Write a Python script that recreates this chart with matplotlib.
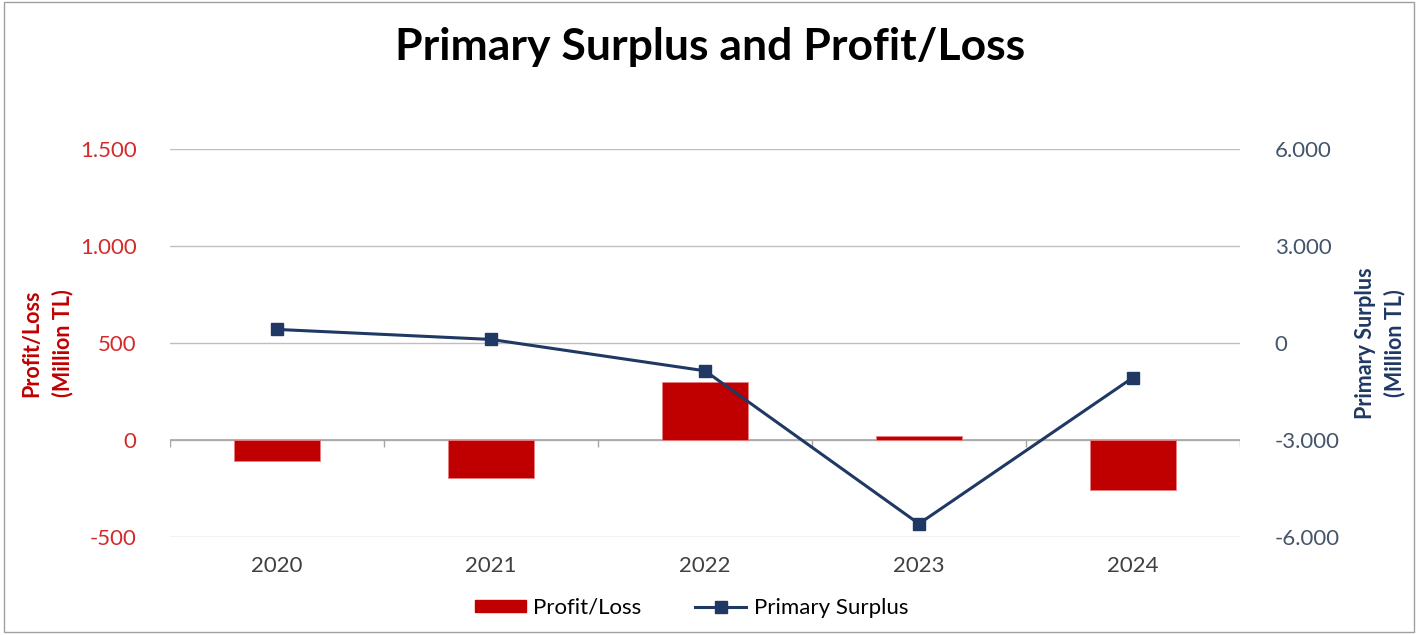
import numpy as np
import matplotlib
matplotlib.use('Agg')
import matplotlib.pyplot as plt
from matplotlib.patches import Rectangle
from matplotlib.ticker import FuncFormatter

plt.rcParams['font.family'] = ['Lato', 'DejaVu Sans']

# Data
years = ['2020', '2021', '2022', '2023', '2024']
profit_loss = [-110, -195, 300, 20, -260]          # Million TL, left axis
primary_surplus = [420, 110, -860, -5590, -1070]   # Million TL, right axis
left_ticks = [-500, 0, 500, 1000, 1500]
right_ticks = [-6000, -3000, 0, 3000, 6000]

red = '#C00000'
navy = '#1F3864'
grid_col = '#BFBFBF'


def dot_thousands(v, pos=None):
    # Turkish style thousands separator
    return f'{int(v):,}'.replace(',', '.')


fig = plt.figure(figsize=(14.2, 6.35), dpi=100)
ax = fig.add_axes([0.1197, 0.1543, 0.7535, 0.6111])
ax2 = ax.twinx()

x = np.arange(len(years))

# Bars on left axis
ax.bar(x, profit_loss, width=0.4, color=red, edgecolor='#E88080', linewidth=0.6, zorder=3)
ax.set_xlim(-0.5, len(years) - 0.5)
ax.set_ylim(-500, 1500)
ax.set_yticks(left_ticks)
ax.yaxis.set_major_formatter(FuncFormatter(dot_thousands))
ax.tick_params(axis='y', length=0, pad=24, labelsize=16, labelcolor='#D42A2A')
ax.grid(axis='y', color=grid_col, linewidth=1.0, zorder=0)
ax.set_axisbelow(True)

# category axis at zero with boundary ticks
ax.axhline(0, color='#A6A6A6', linewidth=1.2, zorder=2)
bounds = np.arange(len(years) + 1) - 0.5
ax.vlines(bounds, -35, 0, color='#A6A6A6', linewidth=1.0, zorder=2)

ax.set_xticks(x)
ax.set_xticklabels(years)
ax.tick_params(axis='x', length=0, pad=14, labelsize=16, labelcolor='#404040')

for s in ['top', 'bottom', 'left', 'right']:
    ax.spines[s].set_visible(False)
    ax2.spines[s].set_visible(False)

ax.set_ylabel('Profit/Loss\n(Million TL)', color=red, fontsize=15.5, fontweight='bold',
              linespacing=1.5)
ax.yaxis.set_label_coords(-0.0907, 0.5)

# Line on right axis
ax2.plot(x, primary_surplus, color=navy, linewidth=2.2, marker='s', markersize=8,
         markerfacecolor=navy, markeredgecolor=navy, zorder=4)
ax2.set_ylim(-6000, 6000)
ax2.set_yticks(right_ticks)
ax2.yaxis.set_major_formatter(FuncFormatter(dot_thousands))
ax2.tick_params(axis='y', length=0, pad=25, labelsize=16, labelcolor='#44546A')
ax2.set_ylabel('Primary Surplus\n(Million TL)', color=navy, fontsize=15.5, fontweight='bold',
               linespacing=1.45)
ax2.yaxis.set_label_coords(1.1075, 0.5)

# Title
fig.text(0.5, 0.926, 'Primary Surplus and Profit/Loss', ha='center', va='center',
         fontsize=32, fontweight='bold', color='black')

# Legend
handles = [Rectangle((0, 0), 1, 1, color=red),
           plt.Line2D([], [], color=navy, linewidth=2.2, marker='s', markersize=8)]
fig.legend(handles, ['Profit/Loss', 'Primary Surplus'], loc='center',
           bbox_to_anchor=(0.487, 0.043), ncol=2, frameon=False, fontsize=16,
           handlelength=2.3, handleheight=0.45, columnspacing=2.4, handletextpad=0.35)

# outer frame
fig.patches.append(Rectangle((0.003, 0.004), 0.993, 0.993, transform=fig.transFigure,
                             fill=False, edgecolor='#A0A0A0', linewidth=1.0))

fig.savefig('out.png', dpi=100)
